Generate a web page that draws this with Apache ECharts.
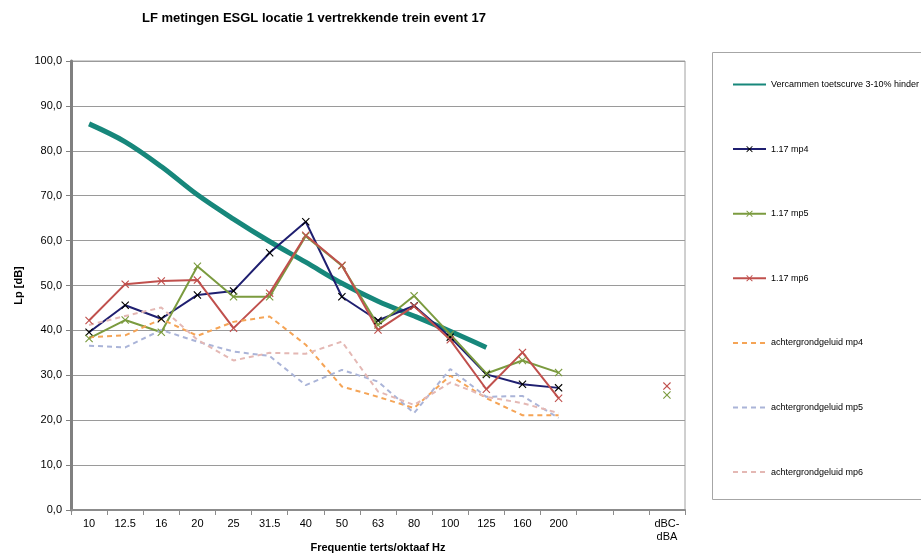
<!DOCTYPE html>
<html>
<head>
<meta charset="utf-8">
<script src="https://cdn.jsdelivr.net/npm/echarts@6/dist/echarts.min.js"></script>
<style>
  html, body { margin: 0; padding: 0; background: #fff; }
  #chart { width: 921px; height: 557px; }
</style>
</head>
<body>
<div id="chart"></div>
<script>
// Frequency bands (third-octave), two empty slots, then the dBC-dBA column
const categories = ['10', '12.5', '16', '20', '25', '31.5', '40', '50', '63', '80', '100', '125', '160', '200', ' ', '  ', 'dBC-\ndBA'];

const yTicks = { min: 0, max: 100, interval: 10 };

// Vercammen test curve (3-10% annoyance)
const vercammen = [86.0, 82.0, 76.5, 70.2, 64.8, 59.8, 55.2, 50.5, 46.5, 43.2, 39.8, 36.2, null, null, null, null, null];

// Train event 17 measurements
const mp4 = [39.6, 45.6, 42.6, 47.9, 48.8, 57.3, 64.2, 47.5, 42.2, 45.5, 38.5, 30.2, 28.0, 27.2, null, null, null];
const mp5 = [38.2, 42.3, 39.6, 54.3, 47.5, 47.5, 61.0, 54.4, 41.2, 47.7, 39.1, 30.4, 33.3, 30.6, null, null, 25.6];
const mp6 = [42.2, 50.3, 51.0, 51.2, 40.5, 48.3, 61.2, 54.5, 40.1, 45.4, 37.9, 26.9, 35.1, 24.9, null, null, 27.6];

// Background noise
const bgMp4 = [38.5, 38.9, 42.5, 38.8, 41.9, 43.1, 36.8, 27.5, 25.2, 22.7, 29.9, 24.9, 21.1, 21.1, null, null, null];
const bgMp5 = [36.6, 36.2, 40.1, 37.5, 35.3, 34.3, 27.8, 31.2, 28.6, 21.6, 31.4, 25.2, 25.4, 20.5, null, null, null];
const bgMp6 = [41.2, 43.2, 45.1, 37.9, 33.3, 35.0, 34.8, 37.5, 26.4, 23.4, 28.4, 25.2, 23.8, 21.6, null, null, null];

const seriesNames = [
  'Vercammen toetscurve 3-10% hinder',
  '1.17 mp4', '1.17 mp5', '1.17 mp6',
  'achtergrondgeluid mp4', 'achtergrondgeluid mp5', 'achtergrondgeluid mp6'
];

const FONT = '"Liberation Sans", Arial, sans-serif';
const CROSS = 'path://M0,1L1,0L5,4L9,0L10,1L6,5L10,9L9,10L5,6L1,10L0,9L4,5Z';

function measured(name, data, lineColor, markColor) {
  return {
    name: name,
    type: 'line',
    data: data,
    symbol: CROSS,
    symbolSize: 8,
    showAllSymbol: true,
    lineStyle: { color: lineColor, width: 2 },
    itemStyle: { color: markColor },
    emphasis: { disabled: true }
  };
}

function background(name, data, color) {
  return {
    name: name,
    type: 'line',
    data: data,
    showSymbol: false,
    symbol: 'none',
    lineStyle: { color: color, width: 2, type: [5, 4] },
    itemStyle: { color: color },
    emphasis: { disabled: true }
  };
}

// Plain line samples (no marker) for the curve and the background series
const plainLegend = new Set([seriesNames[0], seriesNames[4], seriesNames[5], seriesNames[6]]);

const chart = echarts.init(document.getElementById('chart'), null, { renderer: 'canvas' });

chart.setOption({
  animation: false,
  backgroundColor: '#fff',
  textStyle: { fontFamily: FONT },
  title: {
    text: 'LF metingen ESGL locatie 1 vertrekkende trein event 17',
    left: 137,
    top: 7,
    textStyle: { fontFamily: FONT, fontSize: 13, fontWeight: 'bold', color: '#000' }
  },
  graphic: [{
    type: 'rect',
    shape: { x: 712.5, y: 52.5, width: 220, height: 447 },
    style: { fill: '#fff', stroke: '#a6a6a6', lineWidth: 1 },
    z: -1
  }],
  legend: {
    orient: 'vertical',
    left: 727,
    top: 75,
    itemWidth: 33,
    itemHeight: 8,
    itemGap: 55.6,
    data: seriesNames.map(n => plainLegend.has(n) ? { name: n, itemStyle: { opacity: 0 } } : { name: n }),
    textStyle: { fontFamily: FONT, fontSize: 9, color: '#000' },
    selectedMode: false
  },
  grid: {
    left: 71,
    right: 236,
    top: 61,
    bottom: 47,
    outerBoundsMode: 'none',
    containLabel: false,
    show: true,
    borderColor: '#a0a0a0',
    borderWidth: 1
  },
  xAxis: {
    type: 'category',
    data: categories,
    boundaryGap: true,
    name: 'Frequentie terts/oktaaf Hz',
    nameLocation: 'middle',
    nameGap: 32,
    nameMoveOverlap: false,
    nameTextStyle: { fontFamily: FONT, fontSize: 11, fontWeight: 'bold', color: '#000' },
    axisLine: { lineStyle: { color: '#8c8c8c', width: 2 } },
    axisTick: { show: true, length: 5, interval: 0, lineStyle: { color: '#8c8c8c' } },
    axisLabel: { interval: 0, fontFamily: FONT, fontSize: 11, color: '#000', margin: 7, lineHeight: 13 },
    splitLine: { show: false }
  },
  yAxis: {
    type: 'value',
    min: yTicks.min,
    max: yTicks.max,
    interval: yTicks.interval,
    name: 'Lp [dB]',
    nameLocation: 'middle',
    nameRotate: 90,
    nameGap: 47,
    nameMoveOverlap: false,
    nameTextStyle: { fontFamily: FONT, fontSize: 11, fontWeight: 'bold', color: '#000' },
    axisLine: { show: true, lineStyle: { color: '#808080', width: 3 } },
    axisTick: { show: true, length: 5, lineStyle: { color: '#808080' } },
    axisLabel: {
      fontFamily: FONT, fontSize: 11, color: '#000', margin: 9,
      formatter: v => v.toFixed(1).replace('.', ',')
    },
    splitLine: { lineStyle: { color: '#9a9a9a', width: 1 } }
  },
  series: [
    {
      name: seriesNames[0],
      type: 'line',
      data: vercammen,
      smooth: 0.35,
      showSymbol: false,
      symbol: 'none',
      lineStyle: { color: '#17877b', width: 5 },
      itemStyle: { color: '#17877b' },
      emphasis: { disabled: true }
    },
    measured(seriesNames[1], mp4, '#1f1f70', '#000000'),
    measured(seriesNames[2], mp5, '#7b9b3f', '#7b9b3f'),
    measured(seriesNames[3], mp6, '#c0504d', '#c0504d'),
    background(seriesNames[4], bgMp4, '#f5a456'),
    background(seriesNames[5], bgMp5, '#aab4d8'),
    background(seriesNames[6], bgMp6, '#e4b8b4')
  ]
});
</script>
</body>
</html>
